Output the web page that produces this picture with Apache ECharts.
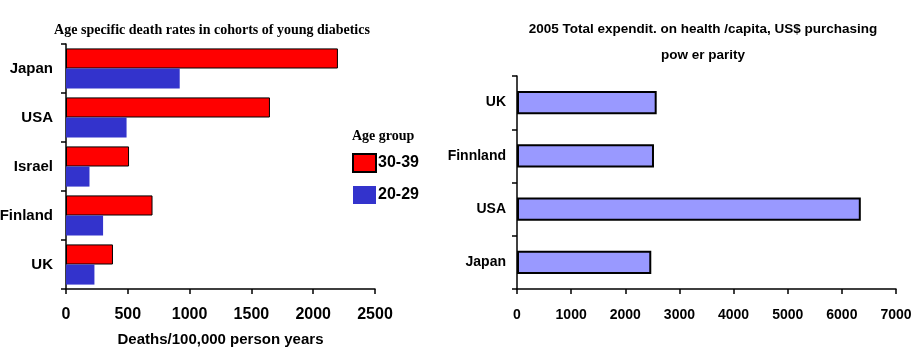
<!DOCTYPE html>
<html><head><meta charset="utf-8">
<script src="https://cdn.jsdelivr.net/npm/echarts@6/dist/echarts.min.js"></script>
<style>html,body{margin:0;padding:0;background:#fff}#c{width:923px;height:360px}</style>
</head><body><div id="c"></div>
<script>
const leftCategories = ['Japan', 'USA', 'Israel', 'Finland', 'UK'];
const age3039 = [2200, 1650, 510, 700, 380];
const age2029 = [920, 490, 190, 300, 230];
const leftTicks = [0, 500, 1000, 1500, 2000, 2500];

const rightCategories = ['UK', 'Finnland', 'USA', 'Japan'];
const expenditure = [2580, 2530, 6350, 2480];
const rightTicks = [0, 1000, 2000, 3000, 4000, 5000, 6000, 7000];

const F = '"Liberation Sans", Arial, sans-serif';
const axisLine = {show: true, lineStyle: {color: '#000', width: 1.5}};
const axisTick = {show: true, length: 5, lineStyle: {color: '#000', width: 1.5}};
const plain = v => String(v);

const chart = echarts.init(document.getElementById('c'));
chart.setOption({
  animation: false,
  textStyle: {fontFamily: F},
  title: [
    {text: 'Age specific death rates in cohorts of young diabetics', left: 212, top: 23, textAlign: 'center', padding: 0,
     textStyle: {fontFamily: '"Liberation Serif", "Times New Roman", serif', fontWeight: 'bold', fontSize: 14, color: '#000'}},
    {text: 'Age group', left: 352, top: 129, padding: 0,
     textStyle: {fontFamily: '"Liberation Serif", "Times New Roman", serif', fontWeight: 'bold', fontSize: 14, color: '#000'}},
    {text: '2005 Total expendit. on health /capita, US$ purchasing\npow er parity', left: 703, top: 16, textAlign: 'center', padding: 0,
     textStyle: {fontFamily: F, fontWeight: 'bold', fontSize: 13.5, color: '#000', lineHeight: 26}}
  ],
  legend: {
    data: ['30-39', '20-29'], orient: 'vertical', left: 352, top: 153, padding: 0,
    itemWidth: 23, itemHeight: 18, itemGap: 13, icon: 'rect',
    textStyle: {fontFamily: F, fontWeight: 'bold', fontSize: 16, color: '#000', padding: [5, 0, 0, -3]}
  },
  grid: [
    {left: 66, top: 44, width: 309, height: 245, containLabel: false, outerBoundsMode: 'none'},
    {left: 517, top: 76, width: 379, height: 213, containLabel: false, outerBoundsMode: 'none'}
  ],
  xAxis: [
    {gridIndex: 0, type: 'value', min: leftTicks[0], max: leftTicks[leftTicks.length - 1], interval: 500,
     axisLine, axisTick, splitLine: {show: false},
     axisLabel: {color: '#000', fontWeight: 'bold', fontSize: 16, margin: 18, formatter: plain},
     name: 'Deaths/100,000 person years', nameLocation: 'middle', nameGap: 43,
     nameTextStyle: {color: '#000', fontWeight: 'bold', fontSize: 15}},
    {gridIndex: 1, type: 'value', min: rightTicks[0], max: rightTicks[rightTicks.length - 1], interval: 1000,
     axisLine, axisTick, splitLine: {show: false},
     axisLabel: {color: '#000', fontWeight: 'bold', fontSize: 14, margin: 19, formatter: plain}}
  ],
  yAxis: [
    {gridIndex: 0, type: 'category', data: leftCategories, inverse: true,
     axisLine, axisTick, axisLabel: {color: '#000', fontWeight: 'bold', fontSize: 15, margin: 13, verticalAlign: 'middle', lineHeight: 22, padding: [4, 0, 0, 0]}},
    {gridIndex: 1, type: 'category', data: rightCategories, inverse: true,
     axisLine, axisTick, axisLabel: {color: '#000', fontWeight: 'bold', fontSize: 14, margin: 11}}
  ],
  series: [
    {name: '30-39', type: 'bar', xAxisIndex: 0, yAxisIndex: 0, data: age3039,
     barGap: '0%', barCategoryGap: '18%',
     itemStyle: {color: '#FF0000', borderColor: '#000', borderWidth: 1}},
    {name: '20-29', type: 'bar', xAxisIndex: 0, yAxisIndex: 0, data: age2029,
     barGap: '0%', barCategoryGap: '18%',
     itemStyle: {color: '#3333CC'}},
    {name: 'Expenditure', type: 'bar', xAxisIndex: 1, yAxisIndex: 1, data: expenditure,
     barCategoryGap: '56%',
     itemStyle: {color: '#9999FF', borderColor: '#000', borderWidth: 2}}
  ]
});
</script></body></html>
